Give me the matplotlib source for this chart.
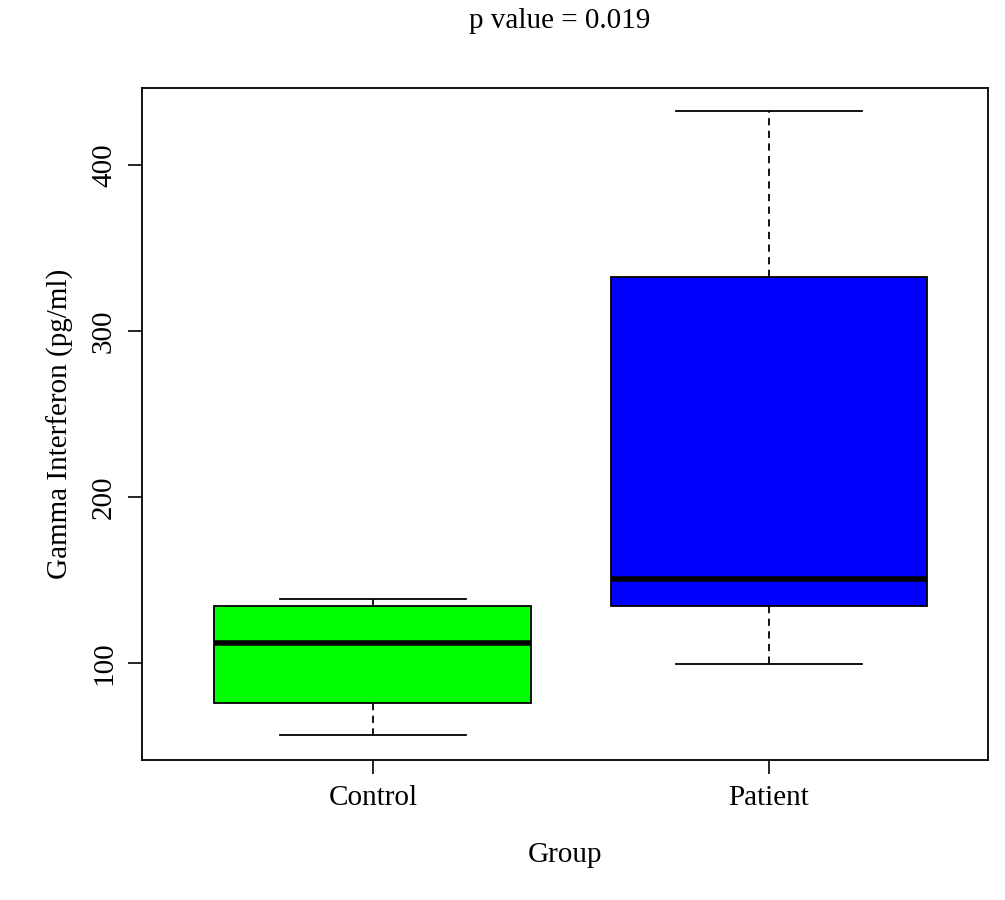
import matplotlib.pyplot as plt

groups = ["Control", "Patient"]
whisker_low = [56.6, 99.4]
q1 = [75.9, 134.3]
medians = [112.0, 150.6]
q3 = [134.3, 332.5]
whisker_high = [138.6, 432.5]
colors = ["#00ff00", "#0000ff"]

plt.rcParams["font.family"] = ["Liberation Serif", "DejaVu Serif"]

fig = plt.figure(figsize=(10.05, 9), dpi=100)
ax = fig.add_axes([0.1413, 0.1556, 0.8417, 0.7464])

stats = [dict(label=g, whislo=wl, q1=a, med=m, q3=b, whishi=wh, fliers=[])
         for g, wl, a, m, b, wh in zip(groups, whisker_low, q1, medians, q3, whisker_high)]
bp = ax.bxp(stats, positions=[1, 2], widths=0.8, capwidths=0.47, patch_artist=True,
            showfliers=False,
            medianprops=dict(color="black", lw=4, solid_capstyle="butt"),
            whiskerprops=dict(color="black", lw=1.3, linestyle=(0, (4, 3))),
            capprops=dict(color="black", lw=1.3),
            boxprops=dict(edgecolor="black", lw=1.3))
for patch, c in zip(bp["boxes"], colors):
    patch.set_facecolor(c)

ax.set_xlim(0.417, 2.553)
ax.set_ylim(41.6, 446.4)
ax.set_yticks([100, 200, 300, 400])
ax.set_yticklabels(["100", "200", "300", "400"], rotation=90, va="center")
ax.set_xticks([1, 2])
ax.set_xticklabels(groups)
ax.tick_params(labelsize=21, length=10, width=1.2, pad=8)
for s in ax.spines.values():
    s.set_linewidth(1.3)
ax.set_xlabel("Group", fontsize=21, labelpad=22)
ax.set_ylabel("Gamma Interferon (pg/ml)", fontsize=21, labelpad=12)
fig.text(0.557, 0.977, "p value = 0.019", ha="center", va="center", fontsize=21)

fig.savefig("out.png", dpi=100)
